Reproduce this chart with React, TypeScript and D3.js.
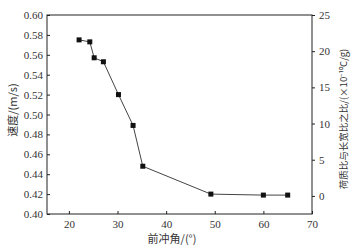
import React, { useRef, useEffect } from "react";
import * as d3 from "d3";

// angle (deg) vs speed (m/s)
const angles = [22.1, 24.3, 25.2, 27.1, 30.2, 33.2, 35.2, 49.2, 60.0, 65.0];
const speeds = [0.575, 0.573, 0.557, 0.553, 0.52, 0.489, 0.448, 0.42, 0.419, 0.419];

const xTicks = [20, 30, 40, 50, 60, 70];
const leftTicks = [0.4, 0.42, 0.44, 0.46, 0.48, 0.5, 0.52, 0.54, 0.56, 0.58, 0.6];
const rightTicks = [0, 5, 10, 15, 20, 25];

const App = () => {
  const container = useRef(null);

  const width = 354;
  const height = 251;
  const margin = { top: 15, right: 42, bottom: 37, left: 47 };

  useEffect(() => {
    const svg = d3.select(container.current);
    svg.selectAll("*").remove();

    const x = d3.scaleLinear().domain([15.5, 70]).range([margin.left, width - margin.right]);
    const y = d3.scaleLinear().domain([0.4, 0.6]).range([height - margin.bottom, margin.top]);
    const y2 = d3.scaleLinear().domain([-2.5, 25]).range([height - margin.bottom, margin.top]);

    const font = "Liberation Serif";
    const cjk = "Noto Sans CJK SC";

    // frame
    svg
      .append("rect")
      .attr("x", margin.left)
      .attr("y", margin.top)
      .attr("width", width - margin.right - margin.left)
      .attr("height", height - margin.bottom - margin.top)
      .attr("fill", "none")
      .attr("stroke", "#222")
      .attr("stroke-width", 1);

    // axes
    const styleAxis = (g) => {
      g.attr("font-family", font).attr("font-size", 11);
      g.select(".domain").remove();
      g.selectAll("line").attr("stroke", "#222");
      g.selectAll("text").attr("fill", "#333");
    };

    svg
      .append("g")
      .attr("transform", `translate(0, ${height - margin.bottom})`)
      .call(d3.axisBottom(x).tickValues(xTicks).tickSize(-3).tickPadding(6))
      .call(styleAxis);

    svg
      .append("g")
      .attr("transform", `translate(${margin.left}, 0)`)
      .call(
        d3.axisLeft(y).tickValues(leftTicks).tickSize(-3).tickPadding(4).tickFormat(d3.format(".2f"))
      )
      .call(styleAxis);

    svg
      .append("g")
      .attr("transform", `translate(${width - margin.right}, 0)`)
      .call(d3.axisRight(y2).tickValues(rightTicks).tickSize(3).tickPadding(4))
      .call(styleAxis);

    // axis titles
    svg
      .append("text")
      .attr("transform", `translate(17, 110) rotate(-90)`)
      .attr("text-anchor", "middle")
      .attr("font-family", cjk)
      .attr("font-size", 11)
      .attr("fill", "#333")
      .text("速度/(m/s)");

    svg
      .append("text")
      .attr("transform", `translate(347, 119) rotate(-90)`)
      .attr("text-anchor", "middle")
      .attr("font-family", cjk)
      .attr("font-size", 9.5)
      .attr("fill", "#333")
      .text("荷质比与长宽比之比/(×10⁻¹⁰C/g)");

    svg
      .append("text")
      .attr("x", 172)
      .attr("y", 243)
      .attr("text-anchor", "middle")
      .attr("font-family", cjk)
      .attr("font-size", 11)
      .attr("fill", "#333")
      .text("前冲角/(°)");

    // line + markers
    const pts = angles.map((a, i) => [a, speeds[i]]);
    const line = d3
      .line()
      .x((d) => x(d[0]))
      .y((d) => y(d[1]));

    svg
      .append("path")
      .datum(pts)
      .attr("d", line)
      .attr("fill", "none")
      .attr("stroke", "#444")
      .attr("stroke-width", 1);

    svg
      .selectAll(".pt")
      .data(pts)
      .enter()
      .append("rect")
      .attr("x", (d) => x(d[0]) - 2.5)
      .attr("y", (d) => y(d[1]) - 2.5)
      .attr("width", 5)
      .attr("height", 5)
      .attr("fill", "#111");
  }, []);

  return (
    <div style={{ width: width, height: height }}>
      <svg
        ref={container}
        width={width}
        height={height}
        style={{ position: "absolute", left: 0, top: 0, background: "#fff" }}
      />
    </div>
  );
};

export default App;
